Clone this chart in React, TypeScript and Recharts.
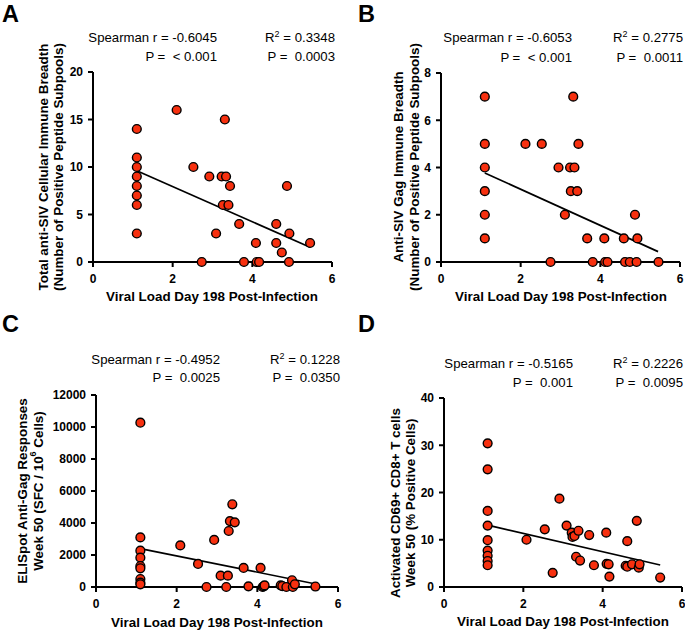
import React from "react";
import { ScatterChart, Scatter, XAxis, YAxis, ReferenceLine } from "recharts";

const FONT = "'Liberation Sans', Arial, Helvetica, sans-serif";
const DOT_COLOR = "#f7300f";

const xTicks = [0, 2, 4, 6];

// [viral load day 198, response]
const breadthTotal: [number, number][] = [
  [1.1, 14], [1.1, 11], [1.1, 10], [1.1, 9], [1.1, 8], [1.1, 7], [1.1, 6], [1.1, 3],
  [2.1, 16], [2.52, 10], [2.73, 0], [2.92, 9], [3.09, 3], [3.23, 9], [3.26, 6],
  [3.31, 15], [3.34, 9], [3.4, 6], [3.44, 8], [3.67, 4], [3.79, 0], [4.09, 2],
  [4.11, 0], [4.17, 0], [4.6, 4], [4.6, 2], [4.74, 1], [4.87, 8], [4.92, 0],
  [4.93, 3], [5.45, 2],
];
const fitTotal = [{ x: 1.1, y: 9.6 }, { x: 5.45, y: 1.55 }];

const breadthGag: [number, number][] = [
  [1.1, 7], [1.1, 5], [1.1, 4], [1.1, 3], [1.1, 2], [1.1, 1],
  [2.12, 5], [2.53, 5], [2.75, 0], [2.95, 4], [3.11, 2], [3.24, 4], [3.26, 3],
  [3.32, 7], [3.35, 4], [3.42, 3], [3.45, 5], [3.67, 1], [3.81, 0], [4.1, 1],
  [4.12, 0], [4.18, 0], [4.59, 1], [4.62, 0], [4.74, 0], [4.87, 2], [4.91, 0],
  [4.93, 1], [5.46, 0],
];
const fitGag = [{ x: 1.1, y: 3.77 }, { x: 5.45, y: 0.44 }];

const elispot: [number, number][] = [
  [1.1, 10270], [1.1, 3100], [1.1, 2270], [1.1, 1830], [1.1, 1310], [1.1, 1170],
  [1.1, 500], [1.1, 270], [1.1, 170],
  [2.09, 2600], [2.53, 1440], [2.74, 0], [2.93, 2940], [3.09, 710], [3.23, 0],
  [3.27, 710], [3.29, 3500], [3.32, 4120], [3.38, 5170], [3.44, 4040], [3.66, 1190],
  [3.78, 40], [4.08, 1190], [4.13, 0], [4.16, 40], [4.18, 100], [4.58, 100],
  [4.62, 60], [4.72, 0], [4.86, 420], [4.88, 0], [4.93, 170], [5.44, 30],
];
const fitElispot = [{ x: 1.1, y: 2400 }, { x: 5.45, y: 190 }];

const cd69: [number, number][] = [
  [1.1, 30.4], [1.1, 24.9], [1.1, 16.1], [1.1, 13.0], [1.1, 9.9], [1.1, 7.7],
  [1.1, 6.6], [1.1, 5.5], [1.1, 4.6],
  [2.08, 10.0], [2.54, 12.2], [2.74, 3.0], [2.91, 18.7], [3.09, 13.0], [3.22, 11.5],
  [3.24, 10.6], [3.29, 10.8], [3.33, 6.4], [3.39, 11.9], [3.43, 5.6], [3.66, 11.0],
  [3.78, 4.6], [4.09, 11.5], [4.1, 4.9], [4.15, 4.8], [4.17, 2.2], [4.58, 4.5],
  [4.62, 9.7], [4.62, 4.3], [4.74, 4.8], [4.86, 14.0], [4.91, 4.1], [4.93, 4.8],
  [5.45, 2.0],
];
const fitCd69 = [{ x: 1.1, y: 13.1 }, { x: 5.45, y: 4.65 }];

const Dot = (props: any) => (
  <circle cx={props.cx} cy={props.cy} r={4.4} fill={DOT_COLOR} stroke="#000" strokeWidth={1.4} />
);

interface PanelProps {
  letter: string;
  letterX: number;
  left: number;
  top: number;
  width: number;
  height: number;
  margin: { top: number; right: number; bottom: number; left: number };
  yWidth: number;
  points: [number, number][];
  fit: { x: number; y: number }[];
  yDomain: [number, number];
  yTicks: number[];
  yLines: React.ReactNode[];
  yLineX: [number, number];
  yLabelY: number;
  xLabelX: number;
  xLabelY: number;
  spearman: string;
  pLeft: string;
  r2: string;
  pRight: string;
  statsX: [number, number];
  statsY: [number, number];
}

const tickStyle = { fill: "#000", fontSize: 12, fontWeight: "bold", fontFamily: FONT };

const Panel: React.FC<PanelProps> = (p) => {
  const data = p.points.map(([x, y]) => ({ x, y }));
  return (
    <div style={{ position: "absolute", left: p.left, top: p.top, width: p.width, height: p.height }}>
      <ScatterChart width={p.width} height={p.height} margin={p.margin}>
        <XAxis
          type="number"
          dataKey="x"
          domain={[0, 6]}
          ticks={xTicks}
          height={30}
          stroke="#000"
          strokeWidth={2}
          tickSize={5}
          tickMargin={7}
          tick={tickStyle}
        />
        <YAxis
          type="number"
          dataKey="y"
          domain={p.yDomain}
          ticks={p.yTicks}
          width={p.yWidth}
          stroke="#000"
          strokeWidth={2}
          tickSize={5}
          tickMargin={5}
          tick={tickStyle}
        />
        <ReferenceLine segment={p.fit} stroke="#000" strokeWidth={1.7} ifOverflow="visible" />
        <Scatter data={data} shape={Dot} isAnimationActive={false} />
      </ScatterChart>
      <svg
        width={p.width}
        height={p.height}
        style={{ position: "absolute", left: 0, top: 0, pointerEvents: "none", fontFamily: FONT }}
      >
        <text x={p.letterX} y={22} fontSize={23.5} fontWeight="bold">{p.letter}</text>
        <g fontSize={13.2}>
          <text x={p.statsX[0]} y={p.statsY[0]} textAnchor="end" xmlSpace="preserve">{p.spearman}</text>
          <text x={p.statsX[0]} y={p.statsY[1]} textAnchor="end" xmlSpace="preserve">{p.pLeft}</text>
          <text x={p.statsX[1]} y={p.statsY[0]} textAnchor="end" xmlSpace="preserve">
            R<tspan dy={-5} fontSize={9}>2</tspan>
            <tspan dy={5}>{" = " + p.r2}</tspan>
          </text>
          <text x={p.statsX[1]} y={p.statsY[1]} textAnchor="end" xmlSpace="preserve">{p.pRight}</text>
        </g>
        <g fontSize={13.4} fontWeight="bold">
          {p.yLines.map((line, i) => (
            <text
              key={i}
              x={p.yLineX[i]}
              y={p.yLabelY}
              textAnchor="middle"
              dominantBaseline="central"
              transform={`rotate(-90 ${p.yLineX[i]} ${p.yLabelY})`}
            >
              {line}
            </text>
          ))}
          <text x={p.xLabelX} y={p.xLabelY} textAnchor="middle">
            Viral Load Day 198 Post-Infection
          </text>
        </g>
      </svg>
    </div>
  );
};

export default function App() {
  return (
    <div style={{ position: "absolute", left: 0, top: 0, width: 685, height: 630, background: "#fff" }}>
      <Panel
        letter="A"
        letterX={2}
        left={0}
        top={0}
        width={342}
        height={310}
        margin={{ top: 72, right: 10, bottom: 18, left: 0 }}
        yWidth={93}
        points={breadthTotal}
        fit={fitTotal}
        yDomain={[0, 20]}
        yTicks={[0, 5, 10, 15, 20]}
        yLines={["Total anti-SIV Cellular Immune Breadth", "(Number of Positive Peptide Subpools)"]}
        yLineX={[43, 58]}
        yLabelY={167}
        xLabelX={212}
        xLabelY={301}
        spearman="Spearman r = -0.6045"
        pLeft="P =  < 0.001"
        r2="0.3348"
        pRight="P =  0.0003"
        statsX={[217, 335]}
        statsY={[42, 61]}
      />
      <Panel
        letter="B"
        letterX={16}
        left={342}
        top={0}
        width={343}
        height={310}
        margin={{ top: 73, right: 5, bottom: 18, left: 0 }}
        yWidth={99}
        points={breadthGag}
        fit={fitGag}
        yDomain={[0, 8]}
        yTicks={[0, 2, 4, 6, 8]}
        yLines={["Anti-SIV Gag Immune Breadth", "(Number of Positive Peptide Subpools)"]}
        yLineX={[56, 72]}
        yLabelY={167}
        xLabelX={219}
        xLabelY={301}
        spearman="Spearman r = -0.6053"
        pLeft="P =  < 0.001"
        r2="0.2775"
        pRight="P =  0.0011"
        statsX={[230, 341]}
        statsY={[42, 62]}
      />
      <Panel
        letter="C"
        letterX={2}
        left={0}
        top={310}
        width={342}
        height={320}
        margin={{ top: 85, right: 4, bottom: 13, left: 0 }}
        yWidth={96}
        points={elispot}
        fit={fitElispot}
        yDomain={[0, 12000]}
        yTicks={[0, 2000, 4000, 6000, 8000, 10000, 12000]}
        yLines={[
          "ELISpot Anti-Gag Responses",
          <>
            {"Week 50 (SFC / 10"}
            <tspan dy={-5} fontSize={9}>6</tspan>
            <tspan dy={5}>{" Cells)"}</tspan>
          </>,
        ]}
        yLineX={[22, 38]}
        yLabelY={181}
        xLabelX={217}
        xLabelY={317}
        spearman="Spearman r = -0.4952"
        pLeft="P =  0.0025"
        r2="0.1228"
        pRight="P =  0.0350"
        statsX={[220, 340]}
        statsY={[54, 72]}
      />
      <Panel
        letter="D"
        letterX={16}
        left={342}
        top={310}
        width={343}
        height={320}
        margin={{ top: 88, right: 3, bottom: 13, left: 0 }}
        yWidth={102}
        points={cd69}
        fit={fitCd69}
        yDomain={[0, 40]}
        yTicks={[0, 10, 20, 30, 40]}
        yLines={["Activated CD69+ CD8+ T cells", "Week 50 (% Positive Cells)"]}
        yLineX={[53, 68]}
        yLabelY={193}
        xLabelX={221}
        xLabelY={316}
        spearman="Spearman r = -0.5165"
        pLeft="P =  0.001"
        r2="0.2226"
        pRight="P =  0.0095"
        statsX={[231, 341]}
        statsY={[58, 77]}
      />
    </div>
  );
}
